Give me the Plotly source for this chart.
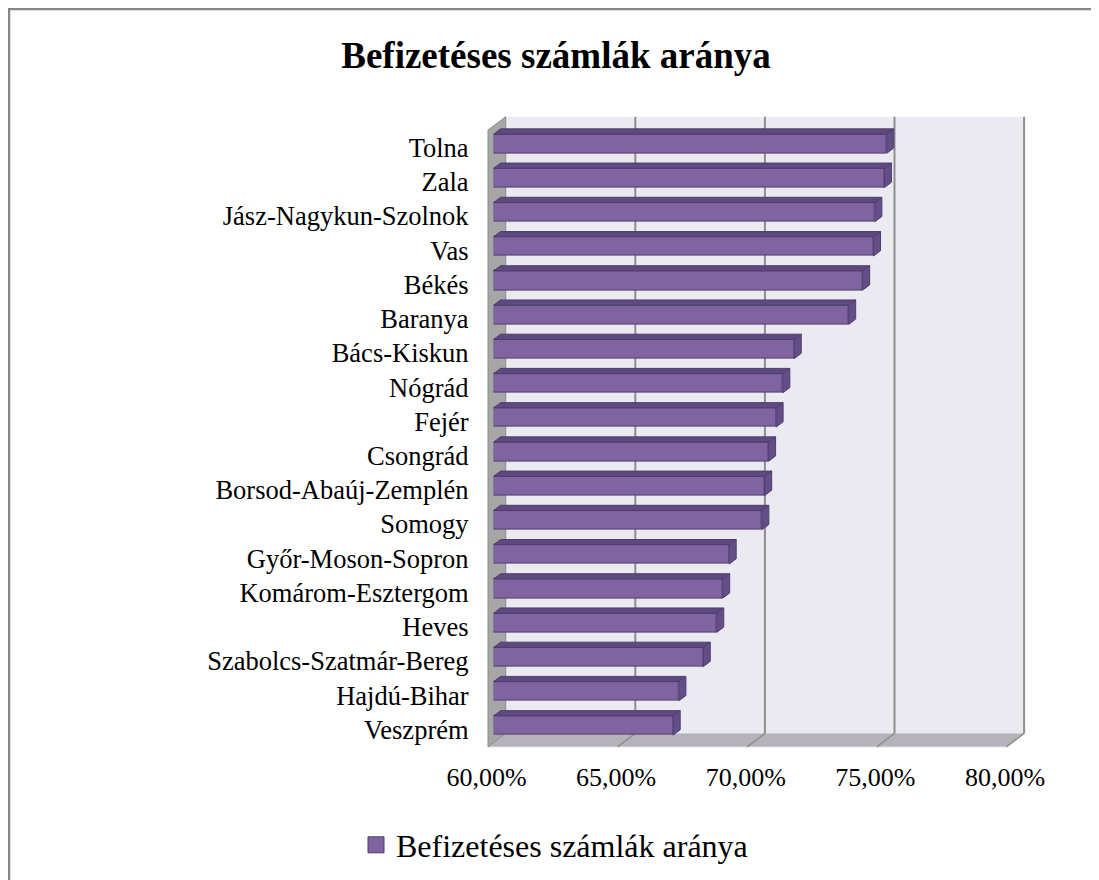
import plotly.graph_objects as go

# ---------------- data ----------------
categories = ["Tolna", "Zala", "Jász-Nagykun-Szolnok", "Vas", "Békés", "Baranya",
              "Bács-Kiskun", "Nógrád", "Fejér", "Csongrád", "Borsod-Abaúj-Zemplén",
              "Somogy", "Győr-Moson-Sopron", "Komárom-Esztergom", "Heves",
              "Szabolcs-Szatmár-Bereg", "Hajdú-Bihar", "Veszprém"]
values = [75.17, 75.08, 74.71, 74.66, 74.24, 73.70, 71.60, 71.16, 70.90, 70.61,
          70.46, 70.35, 69.09, 68.84, 68.61, 68.09, 67.15, 66.93]
series_name = "Befizetéses számlák aránya"
title_text = "Befizetéses számlák aránya"
tick_values = [60, 65, 70, 75, 80]
tick_labels = ["60,00%", "65,00%", "70,00%", "75,00%", "80,00%"]

# ---------------- geometry / style (screen pixels) ----------------
OFF = 8                              # page body margin
W, H = 1091, 872
X_LEFT, X_RIGHT = 493.6, 1012.0      # bar plane pixel span of axis range
Y_TOP, Y_BOT = 126.6, 742.6          # category band span
X_MIN, X_MAX = tick_values[0], tick_values[-1]
DEPTH = (17.7, -13.4)                # full depth vector (front -> back)
T_BAR_FRONT = 0.316
T_BAR_BACK = 0.71
WALL_TOP_BACK = 116.7
BAR_W = 0.56

FONT = "Liberation Serif"
BAR_FRONT = "#8064A2"
BAR_TOP = "#5E4A80"
BAR_SIDE = "#644E88"
BAR_LINE = "#4F3D6E"
BACKWALL = "#ECEAF1"
FLOOR = "#B5B2B9"
SIDEWALL = "#A6A6A6"
GRID = "#8E8E8E"


def px(x):
    return (x - OFF) / W


def py(y):
    return 1 - (y - OFF) / H


def xpix(v):
    return X_LEFT + (v - X_MIN) * (X_RIGHT - X_LEFT) / (X_MAX - X_MIN)


n = len(categories)
pitch = (Y_BOT - Y_TOP) / n
idx = list(range(n))

bar_depth_t = T_BAR_BACK - T_BAR_FRONT
ddx = bar_depth_t * DEPTH[0] * (X_MAX - X_MIN) / (X_RIGHT - X_LEFT)
ddy = bar_depth_t * DEPTH[1] / pitch   # negative = upward (axis reversed)

fig = go.Figure()

fig.add_trace(go.Bar(
    y=idx, x=[v - X_MIN for v in values], base=X_MIN, orientation="h",
    width=BAR_W, marker=dict(color=BAR_FRONT, line=dict(color=BAR_LINE, width=1)),
    showlegend=False, hoverinfo="skip"))

tx, ty, sx, sy = [], [], [], []
for i, v in zip(idx, values):
    top = i - BAR_W / 2
    bot = i + BAR_W / 2
    tx += [X_MIN, v, v + ddx, X_MIN + ddx, X_MIN, None]
    ty += [top, top, top + ddy, top + ddy, top, None]
    sx += [v, v, v + ddx, v + ddx, v, None]
    sy += [top, bot, bot + ddy, top + ddy, top, None]

fig.add_trace(go.Scatter(x=tx, y=ty, mode="lines", fill="toself", fillcolor=BAR_TOP,
                         line=dict(color=BAR_LINE, width=1), showlegend=False,
                         hoverinfo="skip"))
fig.add_trace(go.Scatter(x=sx, y=sy, mode="lines", fill="toself", fillcolor=BAR_SIDE,
                         line=dict(color=BAR_LINE, width=1), showlegend=False,
                         hoverinfo="skip"))

fig.add_trace(go.Scatter(x=[None], y=[None], mode="markers", name=series_name,
                         marker=dict(symbol="square", size=16, color=BAR_FRONT,
                                     line=dict(color=BAR_LINE, width=1))))

# ---------------- 3D walls ----------------
back_dx = (1 - T_BAR_FRONT) * DEPTH[0]
back_dy = (1 - T_BAR_FRONT) * DEPTH[1]
front_dx = -T_BAR_FRONT * DEPTH[0]
front_dy = -T_BAR_FRONT * DEPTH[1]
bw_left = X_LEFT + back_dx
bw_right = X_RIGHT + back_dx
bw_bot = Y_BOT + back_dy
fr_left = X_LEFT + front_dx
fr_right = X_RIGHT + front_dx
fr_bot = Y_BOT + front_dy
wall_top_front = WALL_TOP_BACK - DEPTH[1]

shapes = []
shapes.append(dict(type="rect", xref="paper", yref="paper", x0=px(9), y0=-0.05,
                   x1=1.05, y1=py(9), line=dict(color="#878787", width=2.5),
                   layer="below"))
shapes.append(dict(type="rect", xref="paper", yref="paper", x0=px(bw_left),
                   x1=px(bw_right), y0=py(bw_bot), y1=py(WALL_TOP_BACK),
                   fillcolor=BACKWALL, line=dict(width=0), layer="below"))


def poly(points):
    return "M " + " L ".join(f"{px(x):.5f},{py(y):.5f}" for x, y in points) + " Z"


shapes.append(dict(type="path", xref="paper", yref="paper",
                   path=poly([(bw_left, bw_bot), (bw_right, bw_bot),
                              (fr_right, fr_bot), (fr_left, fr_bot)]),
                   fillcolor=FLOOR, line=dict(color="#CFCDD2", width=1), layer="below"))
shapes.append(dict(type="path", xref="paper", yref="paper",
                   path=poly([(fr_left, wall_top_front), (bw_left, WALL_TOP_BACK),
                              (bw_left, bw_bot), (fr_left, fr_bot)]),
                   fillcolor=SIDEWALL, line=dict(color="#8A8A8A", width=1), layer="below"))
for v in tick_values[1:]:
    xb = xpix(v) + back_dx
    xf = xpix(v) + front_dx
    shapes.append(dict(type="line", xref="paper", yref="paper", x0=px(xb), x1=px(xb),
                       y0=py(bw_bot), y1=py(WALL_TOP_BACK),
                       line=dict(color=GRID, width=2), layer="below"))
    shapes.append(dict(type="line", xref="paper", yref="paper", x0=px(xb), x1=px(xf),
                       y0=py(bw_bot), y1=py(fr_bot),
                       line=dict(color=GRID, width=1.5), layer="below"))

fig.update_layout(
    width=W, height=H,
    margin=dict(l=0, r=0, t=0, b=0, autoexpand=False),
    paper_bgcolor="white", plot_bgcolor="rgba(0,0,0,0)",
    shapes=shapes,
    title=dict(text=f"<b>{title_text}</b>", x=px(556), xanchor="center",
               y=py(55), yanchor="middle",
               font=dict(family=FONT, size=37, color="black")),
    xaxis=dict(domain=[px(X_LEFT), px(X_RIGHT)], range=[X_MIN, X_MAX],
               tickvals=tick_values, ticktext=tick_labels, showgrid=False,
               zeroline=False, showline=False, ticks="", ticklabelshift=-7,
               ticklabelstandoff=16, automargin=False,
               tickfont=dict(family=FONT, size=26, color="black"), fixedrange=True),
    yaxis=dict(domain=[py(Y_BOT), py(Y_TOP)], range=[n - 0.5, -0.5],
               tickvals=idx, ticktext=categories, showgrid=False, zeroline=False,
               showline=False, ticks="", ticklabelstandoff=24, ticklabelshift=-4,
               automargin=False,
               tickfont=dict(family=FONT, size=26.5, color="black"), fixedrange=True),
    showlegend=True,
    legend=dict(orientation="h", x=px(356), xanchor="left", y=py(845),
                yanchor="middle", font=dict(family=FONT, size=32, color="black"),
                bgcolor="rgba(0,0,0,0)"),
    bargap=0,
)

fig.write_html("out.html")
